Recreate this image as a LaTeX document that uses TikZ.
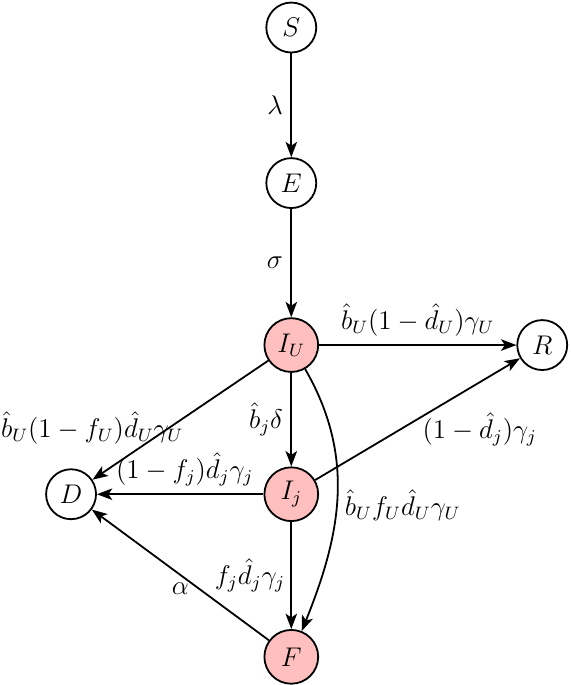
\documentclass[tikz,border=0pt]{standalone}
\usetikzlibrary{arrows.meta}
\begin{document}
\begin{tikzpicture}[font=\large,
	state/.style={circle,draw,thick,minimum size=7.8mm,inner sep=1},
	inf/.style={state,fill=red!25,minimum size=8.4mm},
	every edge/.style={draw,thick,-{Stealth[length=2.4mm,width=1.8mm,inset=0.6mm]}}]
\useasboundingbox (0,0) rectangle (8.92,10.70);
\node[state] (S) at (4.55,10.27) {$S$};
\node[state] (E) at (4.55,7.84) {$E$};
\node[inf] (IU) at (4.55,5.31) {$I_U$};
\node[state] (R) at (8.47,5.31) {$R$};
\node[state] (D) at (1.11,2.98) {$D$};
\node[inf] (Ij) at (4.55,2.98) {$I_j$};
\node[inf] (F) at (4.55,0.44) {$F$};
\draw (S) edge node[left] {$\lambda$} (E)
	(E) edge node[left] {$\sigma$} (IU)
	(IU) edge node[above] {$\hat{b}_U(1-\hat{d}_U)\gamma_U$} (R)
	(IU) edge node[pos=0.55,left,xshift=9pt,yshift=-1pt] {$\hat{b}_U(1-f_U)\hat{d}_U\gamma_U$} (D)
	(IU) edge node[left] {$\hat{b}_j\delta$} (Ij)
	(IU) edge[out=-60,in=68] node[right,pos=0.53] {$\hat{b}_U f_U\hat{d}_U\gamma_U$} (F)
	(Ij) edge node[pos=0.55,below right,xshift=-6pt,yshift=4pt] {$(1-\hat{d}_j)\gamma_j$} (R)
	(Ij) edge node[above,xshift=2pt] {$(1-f_j)\hat{d}_j\gamma_j$} (D)
	(Ij) edge node[left,xshift=1pt] {$f_j\hat{d}_j\gamma_j$} (F)
	(F) edge node[below] {$\alpha$} (D);
\end{tikzpicture}
\end{document}
